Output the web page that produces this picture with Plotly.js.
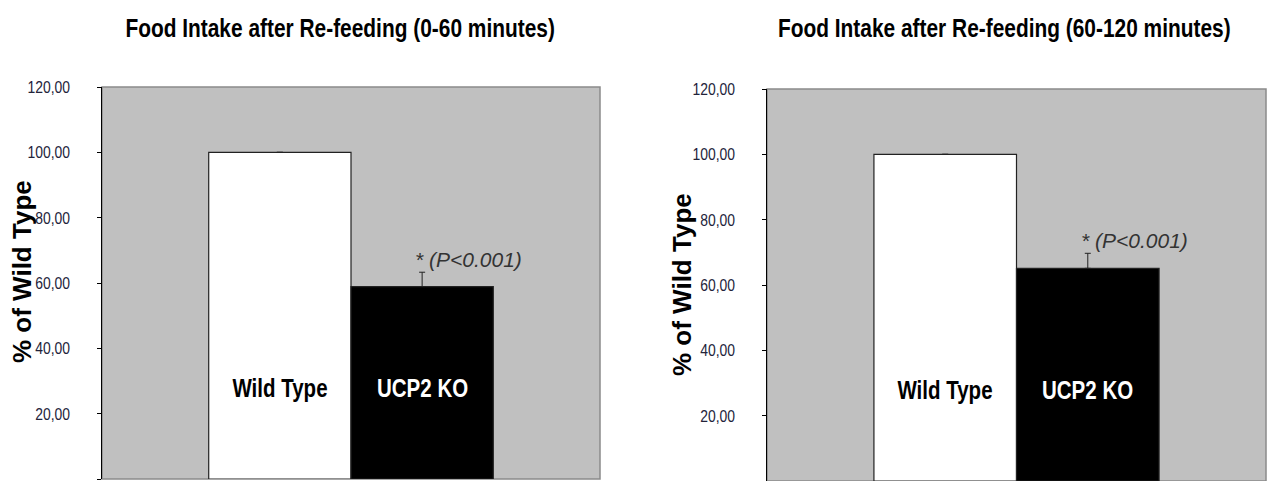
<!DOCTYPE html>
<html>
<head>
<meta charset="utf-8">
<script src="https://cdn.plot.ly/plotly-3.0.1.min.js"></script>
<style>html,body{margin:0;padding:0;background:#fff;}#chart{width:1267px;height:481px;}</style>
</head>
<body>
<div id="chart"></div>
<script>
// ---- data ----
const categories = ['Wild Type', 'UCP2 KO'];
const intake0to60 = [100, 58.9];
const error0to60 = [0, 4.4];
const intake60to120 = [100, 65.1];
const error60to120 = [0, 4.6];
const titles = ['Food Intake after Re-feeding (0-60 minutes)', 'Food Intake after Re-feeding (60-120 minutes)'];
const yTitle = '% of Wild Type';
const pLabel = '* (P<0.001)';

const NARROW = '"Liberation Sans Narrow", "Arial Narrow", "Liberation Sans", Arial, sans-serif';
const SANS = '"Liberation Sans", Arial, sans-serif';
const CONDENSE = 0.82; // horizontal squeeze to mimic a narrow face
const xIdx = [0, 1];

function barTrace(vals, errs, xa, ya) {
  return {
    type: 'bar', x: xIdx, y: vals, xaxis: xa, yaxis: ya,
    width: 1,
    marker: {color: ['#ffffff', '#000000'], line: {color: '#222', width: 1.2}},
    error_y: {type: 'data', symmetric: false, array: errs, arrayminus: [0, 0], color: '#222', thickness: 1, width: 3},
    hoverinfo: 'skip', showlegend: false
  };
}

const traces = [
  barTrace(intake0to60, error0to60, 'x', 'y'),
  barTrace(intake60to120, error60to120, 'x2', 'y2')
];

function yAx(domain, anchor) {
  return {
    domain: domain, anchor: anchor, range: [0, 120], dtick: 20, tick0: 0, tickformat: '.2f',
    ticks: 'outside', ticklen: 4, tickcolor: '#000', tickwidth: 1,
    showline: true, linecolor: '#000', linewidth: 1.5,
    showgrid: false, zeroline: false, fixedrange: true,
    ticklabelstandoff: 23,
    tickfont: {family: NARROW, size: 17, color: '#23233a'}
  };
}
function xAx(domain, anchor) {
  return {
    domain: domain, anchor: anchor, range: [-1.25, 2.25],
    showticklabels: false, ticks: '', showline: false, showgrid: false, zeroline: false, fixedrange: true
  };
}

const W = 1267, H = 481;
const annotations = [];
const shapes = [];
const panels = [
  {xa: 'x', ya: 'y', vals: intake0to60, errs: error0to60, titleX: 340, ytX: 22, ytY: 272},
  {xa: 'x2', ya: 'y2', vals: intake60to120, errs: error60to120, titleX: 1004, ytX: 682, ytY: 285}
];
panels.forEach((p, i) => {
  annotations.push({
    xref: 'paper', yref: 'paper', x: p.titleX / W, y: 1 - 28 / H, xanchor: 'center', yanchor: 'middle',
    text: titles[i], showarrow: false, name: 'narrow',
    font: {family: NARROW, size: 25.5, color: '#000', weight: 'bold'}
  });
  annotations.push({
    xref: 'paper', yref: 'paper', x: p.ytX / W, y: 1 - p.ytY / H, xanchor: 'center', yanchor: 'middle',
    text: yTitle, textangle: -90, showarrow: false, font: {family: SANS, size: 26, color: '#000', weight: 'bold'}
  });
  annotations.push({
    xref: p.xa, yref: p.ya, x: 1, y: p.vals[1] + p.errs[1] + 4, xanchor: 'left', yanchor: 'middle', xshift: -9,
    text: pLabel, showarrow: false, font: {family: SANS, size: 21, color: '#333', style: 'italic'}
  });
  categories.forEach((c, j) => {
    annotations.push({
      xref: p.xa, yref: p.ya, x: j, y: 28, xanchor: 'center', yanchor: 'middle',
      text: c, showarrow: false, name: 'narrow',
      font: {family: NARROW, size: 25, color: j === 0 ? '#000' : '#fff', weight: 'bold'}
    });
  });
  shapes.push({
    type: 'rect', xref: p.xa + ' domain', yref: p.ya + ' domain', x0: 0, x1: 1, y0: 0, y1: 1,
    line: {color: '#8a8a8a', width: 1.5}, layer: 'below', fillcolor: 'rgba(0,0,0,0)'
  });
});

const layout = {
  width: W, height: H, margin: {l: 0, r: 0, t: 0, b: 0},
  paper_bgcolor: '#fff', plot_bgcolor: '#c0c0c0',
  separators: ',.', bargap: 0, showlegend: false,
  xaxis: xAx([102 / W, 600 / W], 'y'),
  yaxis: yAx([2 / H, 1 - 87 / H], 'x'),
  xaxis2: xAx([767 / W, 1266 / W], 'y2'),
  yaxis2: yAx([0, 1 - 89 / H], 'x2'),
  annotations: annotations, shapes: shapes
};

function squeeze(el, mode) {
  if (el.getAttribute('data-sq') === '1') return;
  el.setAttribute('data-sq', '1');
  const bb = el.getBBox();
  const cx = mode === 'end' ? bb.x + bb.width : bb.x + bb.width / 2;
  const prev = el.getAttribute('transform') || '';
  el.setAttribute('transform', prev + ' translate(' + cx + ',0) scale(' + CONDENSE + ',1) translate(' + (-cx) + ',0)');
}

Plotly.newPlot('chart', traces, layout, {staticPlot: true, displayModeBar: false}).then(gd => {
  gd.querySelectorAll('g.ytick text, g.y2tick text').forEach(t => squeeze(t, 'end'));
  const annTexts = gd.querySelectorAll('g.annotation');
  annTexts.forEach((g, k) => {
    const ann = layout.annotations[k];
    if (ann && ann.name === 'narrow') {
      const t = g.querySelector('text.annotation-text');
      if (t) squeeze(t, 'middle');
    }
  });
});
</script>
</body>
</html>
